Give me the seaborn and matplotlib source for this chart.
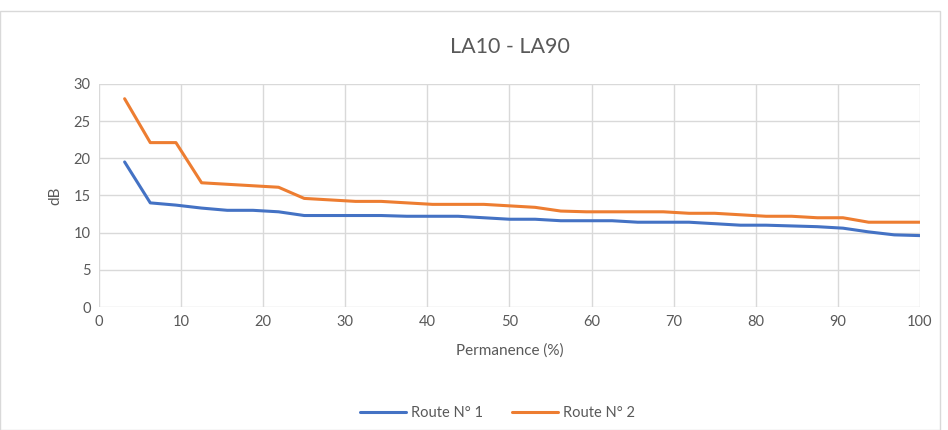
import numpy as np
import pandas as pd
import seaborn as sns
import matplotlib.pyplot as plt
from matplotlib.patches import Rectangle

# Data
permanence = [3.125 * i for i in range(1, 33)]
route_1 = [19.5, 14.0, 13.7, 13.3, 13.0, 13.0, 12.8, 12.3, 12.3, 12.3, 12.3, 12.2,
           12.2, 12.2, 12.0, 11.8, 11.8, 11.6, 11.6, 11.6, 11.4, 11.4, 11.4, 11.2,
           11.0, 11.0, 10.9, 10.8, 10.6, 10.1, 9.7, 9.6]
route_2 = [28.0, 22.1, 22.1, 16.7, 16.5, 16.3, 16.1, 14.6, 14.4, 14.2, 14.2, 14.0,
           13.8, 13.8, 13.8, 13.6, 13.4, 12.9, 12.8, 12.8, 12.8, 12.8, 12.6, 12.6,
           12.4, 12.2, 12.2, 12.0, 12.0, 11.4, 11.4, 11.4]
series_names = ['Route N° 1', 'Route N° 2']

df = pd.DataFrame({
    'Permanence': permanence * 2,
    'dB': route_1 + route_2,
    'Route': [series_names[0]] * len(route_1) + [series_names[1]] * len(route_2),
})

sns.set_style('white')
plt.rcParams['font.family'] = ['Lato', 'DejaVu Sans']

fig = plt.figure(figsize=(9.48, 4.30), dpi=100)
ax = fig.add_axes([0.1044, 0.286, 0.866, 0.519])

sns.lineplot(data=df, x='Permanence', y='dB', hue='Route',
             palette=['#4472C4', '#ED7D31'], linewidth=2.2, ax=ax)

ax.set_xlim(0, 100)
ax.set_ylim(0, 30)
ax.set_xticks(range(0, 101, 10))
ax.set_yticks(range(0, 31, 5))
ax.grid(True, color='#D9D9D9', linewidth=1)
ax.set_axisbelow(True)
for s in ax.spines.values():
    s.set_visible(False)
ax.tick_params(length=0, labelsize=10.5, labelcolor='#595959', pad=6)
ax.set_xlabel('Permanence (%)', fontsize=11, color='#595959', labelpad=10)
ax.set_ylabel('dB', fontsize=11, color='#595959', labelpad=8)
ax.set_title('LA10 - LA90', fontsize=15.5, color='#595959', pad=22)

ax.legend(loc='upper center', bbox_to_anchor=(0.485, -0.385), ncol=2, frameon=False,
          fontsize=10.5, labelcolor='#595959', handlelength=3.2, columnspacing=2,
          handletextpad=0.3)

fig.patches.append(Rectangle((0.0, 0.0), 0.992, 0.975, transform=fig.transFigure,
                             fill=False, edgecolor='#D9D9D9', linewidth=1))

fig.savefig('out.png', dpi=100)
